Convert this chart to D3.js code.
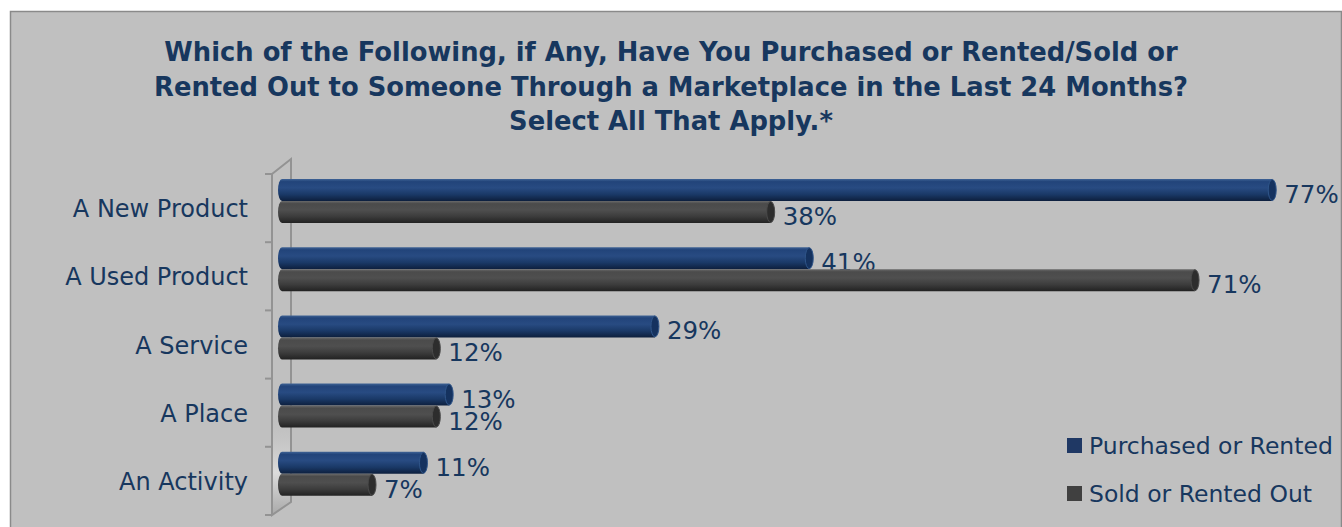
<!DOCTYPE html>
<html>
<head>
<meta charset="utf-8">
<script src="https://cdn.jsdelivr.net/npm/d3@7"></script>
<style>
  html, body { margin: 0; padding: 0; background: #ffffff; }
  svg { display: block; }
  text { font-family: "DejaVu Sans", sans-serif; }
</style>
</head>
<body>
<svg id="chart" width="1342" height="527"></svg>
<script>
// Survey data: share of respondents per marketplace activity
const categories = ["A New Product", "A Used Product", "A Service", "A Place", "An Activity"];
const seriesNames = ["Purchased or Rented", "Sold or Rented Out"];
const purchased = [77, 41, 29, 13, 11];
const soldOut = [38, 71, 12, 12, 7];
const titleLines = [
  "Which of the Following, if Any, Have You Purchased or Rented/Sold or",
  "Rented Out to Someone Through a Marketplace in the Last 24 Months?",
  "Select All That Apply.*"
];

const textColor = "#17375e";
const svg = d3.select("#chart");
const defs = svg.append("defs");

// chart area background
svg.append("rect")
  .attr("x", 10.5).attr("y", 11.5)
  .attr("width", 1331).attr("height", 530)
  .attr("fill", "#c0c0c0")
  .attr("stroke", "#8a8a8a").attr("stroke-width", 1.5);

// title
svg.append("g").selectAll("text")
  .data(titleLines)
  .join("text")
  .attr("x", 671)
  .attr("y", (d, i) => 61 + i * 34.5)
  .attr("text-anchor", "middle")
  .attr("font-size", 25.8)
  .attr("font-weight", "bold")
  .attr("fill", textColor)
  .text(d => d);

// scales
const y = d3.scaleBand().domain(categories).range([174, 515]).paddingInner(0).paddingOuter(0);
const ySub = d3.scaleBand().domain(seriesNames).range([5, 49]);
const x = d3.scaleLinear().domain([0, 80]).range([282, 282 + 12.86 * 80]);

// gradients for cylinder bars
const palettes = {
  "Purchased or Rented": { stops: ["#3f6395", "#22447a", "#284b82", "#1a3967", "#0d1f3d"], face: "#15325f", rim: "#2f5589", legend: "#1f3864" },
  "Sold or Rented Out": { stops: ["#6a6a6a", "#4b4b4b", "#4f4f4f", "#3c3c3c", "#222222"], face: "#2d2d2d", rim: "#4a4a4a", legend: "#404040" }
};
seriesNames.forEach((s, i) => {
  const g = defs.append("linearGradient")
    .attr("id", "grad" + i).attr("x1", 0).attr("y1", 0).attr("x2", 0).attr("y2", 1);
  const offs = [0, 0.12, 0.4, 0.7, 1];
  palettes[s].stops.forEach((c, k) => g.append("stop").attr("offset", offs[k]).attr("stop-color", c));
});

// wall gradient (shaded toward the floor)
const wg = defs.append("linearGradient").attr("id", "wallGrad")
  .attr("x1", 0).attr("y1", 0).attr("x2", 0).attr("y2", 1);
wg.append("stop").attr("offset", 0).attr("stop-color", "#c0c0c0").attr("stop-opacity", 0);
wg.append("stop").attr("offset", 0.72).attr("stop-color", "#c0c0c0").attr("stop-opacity", 0);
wg.append("stop").attr("offset", 0.88).attr("stop-color", "#dcdcdc").attr("stop-opacity", 1);
wg.append("stop").attr("offset", 1).attr("stop-color", "#a9a9a9").attr("stop-opacity", 1);

// side wall of the category axis
const [y0, y1] = y.range();
const wall = svg.append("g");
wall.append("path")
  .attr("d", `M272,${y0} L291,${y0 - 15} L291,${y1 - 13} L272,${y1} Z`)
  .attr("fill", "url(#wallGrad)")
  .attr("stroke", "#939393").attr("stroke-width", 2);
// tick marks at category boundaries
const bounds = categories.map(c => y(c)).concat([y1]);
wall.selectAll("line.tick")
  .data(bounds)
  .join("line")
  .attr("class", "tick")
  .attr("x1", 265).attr("x2", 272)
  .attr("y1", d => d).attr("y2", d => d)
  .attr("stroke", "#939393").attr("stroke-width", 2);

// category labels
svg.append("g").selectAll("text")
  .data(categories)
  .join("text")
  .attr("x", 248)
  .attr("y", d => y(d) + y.bandwidth() / 2 + 9)
  .attr("text-anchor", "end")
  .attr("font-size", 24)
  .attr("fill", textColor)
  .text(d => d);

// bars as horizontal cylinders
const rx = 4;
const rows = [];
categories.forEach((c, i) => {
  rows.push({ cat: c, series: seriesNames[0], idx: 0, value: purchased[i] });
  rows.push({ cat: c, series: seriesNames[1], idx: 1, value: soldOut[i] });
});
const h = ySub.bandwidth();
const bars = svg.append("g").selectAll("g.bar")
  .data(rows)
  .join("g")
  .attr("class", "bar")
  .attr("transform", d => `translate(0,${y(d.cat) + ySub(d.series)})`);

bars.append("path")
  .attr("d", d => {
    const xa = x(0), xb = x(d.value);
    return `M${xa},0 L${xb},0 L${xb},${h} L${xa},${h} A${rx},${h / 2} 0 0 1 ${xa},0 Z`;
  })
  .attr("fill", d => `url(#grad${d.idx})`);

bars.append("ellipse")
  .attr("cx", d => x(d.value))
  .attr("cy", h / 2)
  .attr("rx", rx)
  .attr("ry", h / 2 - 0.5)
  .attr("fill", d => palettes[d.series].face)
  .attr("stroke", d => palettes[d.series].rim)
  .attr("stroke-width", 1);

// value labels
bars.append("text")
  .attr("x", d => x(d.value) + rx + 8)
  .attr("y", d => h + 2)
  .attr("font-size", 24.5)
  .attr("fill", textColor)
  .text(d => d.value + "%");

// legend
const legend = svg.append("g").selectAll("g")
  .data(seriesNames)
  .join("g")
  .attr("transform", (d, i) => `translate(1067,${438 + i * 48})`);
legend.append("rect")
  .attr("width", 15).attr("height", 15)
  .attr("fill", d => palettes[d].legend);
legend.append("text")
  .attr("x", 22).attr("y", 16)
  .attr("font-size", 23.5)
  .attr("fill", textColor)
  .text(d => d);
</script>
</body>
</html>
